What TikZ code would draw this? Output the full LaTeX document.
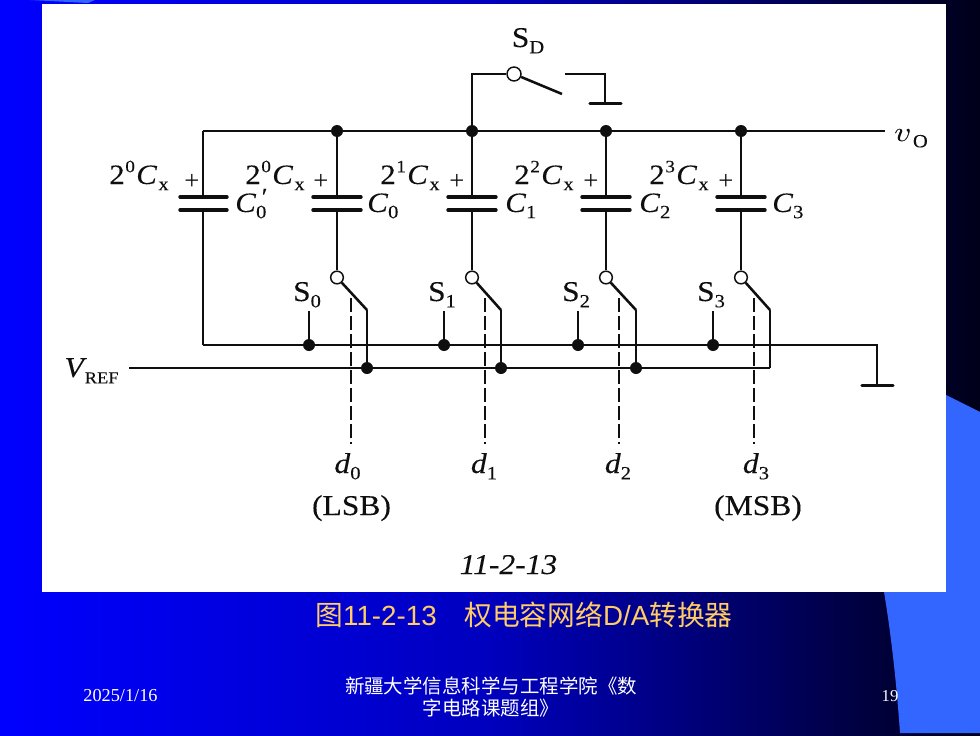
\documentclass[tikz,border=0pt]{standalone}
\usepackage{fontspec}
\setmainfont{Liberation Serif}
\newfontfamily\ckt[FakeStretch=1.1,FakeBold=0.12]{Liberation Serif}
\newfontfamily\cjk{Noto Sans CJK SC}
\newfontfamily\hei{Liberation Sans}
\definecolor{lightb}{RGB}{51,102,255}
\definecolor{titlec}{RGB}{255,204,102}
\definecolor{ink}{RGB}{15,15,15}
\definecolor{midb}{RGB}{0,0,190}
\definecolor{darkb}{RGB}{0,0,25}
\newcommand{\subs}[1]{\raisebox{-0.22em}{\fontsize{14pt}{14pt}\selectfont #1}}
\newcommand{\sups}[1]{\raisebox{0.42em}{\fontsize{13pt}{13pt}\selectfont #1}}
\newcommand{\capval}[1]{2\kern0.5pt\sups{#1}\kern1pt\textit{C}\kern1pt\subs{x}}
\tikzset{
  x=0.75pt,y=-0.75pt,
  wire/.style={draw=ink,line width=1.3pt},
  heavy/.style={draw=ink,line width=1.9pt},
  plate/.style={draw=ink,line width=2.55pt,line cap=round},
  ctrl/.style={draw=ink,line width=1.5pt,dash pattern=on 10.5pt off 3pt},
  lab/.style={inner sep=0pt,text=ink,anchor=base,font=\fontsize{21.5pt}{22pt}\ckt},
  capl/.style={lab,font=\fontsize{21pt}{22pt}\ckt},
  plus/.style={inner sep=0pt,text=ink,font=\fontsize{20pt}{20pt}\selectfont},
  jdot/.style={circle,fill=ink,inner sep=0pt,minimum size=9pt},
  swc/.style={circle,draw=ink,line width=1.1pt,fill=white,inner sep=0pt,minimum size=9.5pt},
  foot/.style={inner sep=0pt,text=white,align=center},
}
\begin{document}
\begin{tikzpicture}
\useasboundingbox (0,0) rectangle (980,735);
\fill[midb] (0,0) rectangle (980,735);
\shade[left color=blue,right color=midb] (0,0) rectangle (490,735);
\shade[left color=midb,right color=darkb] (490,0) rectangle (980,735);
\fill[lightb] (30,0) -- (95,0) -- (88,3) -- cycle;
\fill[lightb] (884,592) .. controls (892,640) and (897,690) .. (900,733) -- (980,733) -- (980,412) -- (946,395) -- (946,592) -- cycle;
\fill[white] (42,4) rectangle (946,592);

% rails
\coordinate (tl) at (203,131);
\coordinate (tr) at (885,131);
\coordinate (bl) at (203,345);
\coordinate (br) at (877,345);
\coordinate (gnd) at (877,385);
\coordinate (vl) at (129,368);
\coordinate (vr) at (770,368);
\draw[wire] (tl) -- (tr);
\draw[wire] (bl) -- (br) -- (gnd);
\draw[wire] (vl) -- (vr);
\draw[plate] (862,385.5) -- (893,385.5);

% leftmost capacitor
\coordinate (cpt) at (203,197);
\coordinate (cpb) at (203,210);
\draw[wire] (tl) -- (cpt);
\draw[wire] (cpb) -- (bl);
\draw[plate] (180,197) -- (227,197);
\draw[plate] (180,210) -- (227,210);

% four weighted branches
\foreach \n/\cx/\sx/\tx/\vx in {0/337/309/351/367,1/472/444/485/501,2/606/578/619/636,3/741/713/754/770}{
  \coordinate (t\n) at (\cx,131);
  \coordinate (pt\n) at (\cx,197);
  \coordinate (pb\n) at (\cx,210);
  \coordinate (blade\n) at (\vx,310);
  \coordinate (vdot\n) at (\vx,368);
  \coordinate (stub\n) at (\sx,311);
  \coordinate (sdot\n) at (\sx,345);
  \coordinate (dt\n) at (\tx,298);
  \coordinate (db\n) at (\tx,444);
  \node[swc] (sw\n) at (\cx,277.5) {};
  \draw[wire] (t\n) -- (pt\n);
  \draw[wire] (pb\n) -- (sw\n);
  \draw[plate] (\cx-24,197) -- (\cx+24,197);
  \draw[plate] (\cx-24,210) -- (\cx+24,210);
  \draw[heavy] (sw\n) -- (blade\n);
  \draw[wire] (blade\n) -- (vdot\n);
  \draw[wire] (stub\n) -- (sdot\n);
  \draw[ctrl] (dt\n) -- (db\n);
  \node[jdot] (tj\n) at (t\n) {};
  \node[jdot] (sj\n) at (sdot\n) {};
}
\foreach \n in {0,1,2}{\node[jdot] (vj\n) at (vdot\n) {};}

% reset switch
\coordinate (sdc) at (472,74);
\coordinate (sdb) at (562,94);
\coordinate (sdr) at (565,74);
\coordinate (sdg) at (605,74);
\coordinate (sdgb) at (605,103);
\node[swc,minimum size=10.5pt] (sd) at (514,74) {};
\draw[wire] (t1) -- (sdc) -- (sd);
\draw[heavy] (sd) -- (sdb);
\draw[wire] (sdr) -- (sdg) -- (sdgb);
\draw[plate] (590,103.5) -- (621,103.5);

% labels
\node[lab] (lsd) at (528,47) {S\subs{D}};
\node[lab] (lvo) at (911,141) {\rlap{\scalebox{1.2}[1]{$v$}}\kern0.35pt\scalebox{1.2}[1]{$v$}\kern1pt\subs{O}};
\node[lab] (lvref) at (91.5,377) {\textit{V}\kern-1.5pt\raisebox{-0.22em}{\fontsize{12.5pt}{13pt}\selectfont REF}};

\node[capl] (wa) at (139,184) {\capval{0}};
\node[capl] (wb) at (275,184) {\capval{0}};
\node[capl] (wc) at (410,184) {\capval{1}};
\node[capl] (wd) at (544,184) {\capval{2}};
\node[capl] (we) at (679,184) {\capval{3}};
\foreach \n/\x in {a/192,b/321,c/457,d/591,e/726}{\node[plus] (p\n) at (\x,182) {+};}

\node[capl,anchor=base west] (c0p) at (235,212) {\textit{C}\rlap{\kern3pt\smash{\raisebox{5.5pt}{\fontsize{18pt}{18pt}\selectfont\textit{′}}}}\subs{0}};
\node[capl,anchor=base west] (c0) at (367,212) {\textit{C}\subs{0}};
\node[capl,anchor=base west] (c1) at (505,212) {\textit{C}\subs{1}};
\node[capl,anchor=base west] (c2) at (639,212) {\textit{C}\subs{2}};
\node[capl,anchor=base west] (c3) at (772,212) {\textit{C}\subs{3}};

\node[lab] (s0) at (307,301) {S\subs{0}};
\node[lab] (s1) at (442,301) {S\subs{1}};
\node[lab] (s2) at (576,301) {S\subs{2}};
\node[lab] (s3) at (711,301) {S\subs{3}};

\node[lab] (d0) at (347.5,473) {\textit{d}\subs{0}};
\node[lab] (d1) at (484,473) {\textit{d}\subs{1}};
\node[lab] (d2) at (618,473) {\textit{d}\subs{2}};
\node[lab] (d3) at (756,473) {\textit{d}\subs{3}};
\node[lab] (lsb) at (351.5,515) {(LSB)};
\node[lab] (msb) at (758,515) {(MSB)};
\node[lab,font=\fontsize{21.5pt}{22pt}\ckt\itshape] (capt) at (508.5,574) {11-2-13};

% slide texts
\node[inner sep=0pt,text=titlec,font=\fontsize{20.8pt}{22pt}\selectfont] (title) at (524,614.5) {{\cjk 图}{\hei 11-2-13}\hspace{1em}{\cjk 权电容网络}{\hei D/A}{\cjk 转换器}};
\node[foot,font=\fontsize{13.7pt}{14pt}\selectfont] (date) at (120.5,696) {2025/1/16};
\node[foot,font=\fontsize{14.6pt}{16.5pt}\cjk\selectfont] (org) at (491,697) {新疆大学信息科学与工程学院《数\\字电路课题组》};
\node[foot,font=\fontsize{12.5pt}{14pt}\selectfont] (num) at (890,696) {19};
\end{tikzpicture}
\end{document}
